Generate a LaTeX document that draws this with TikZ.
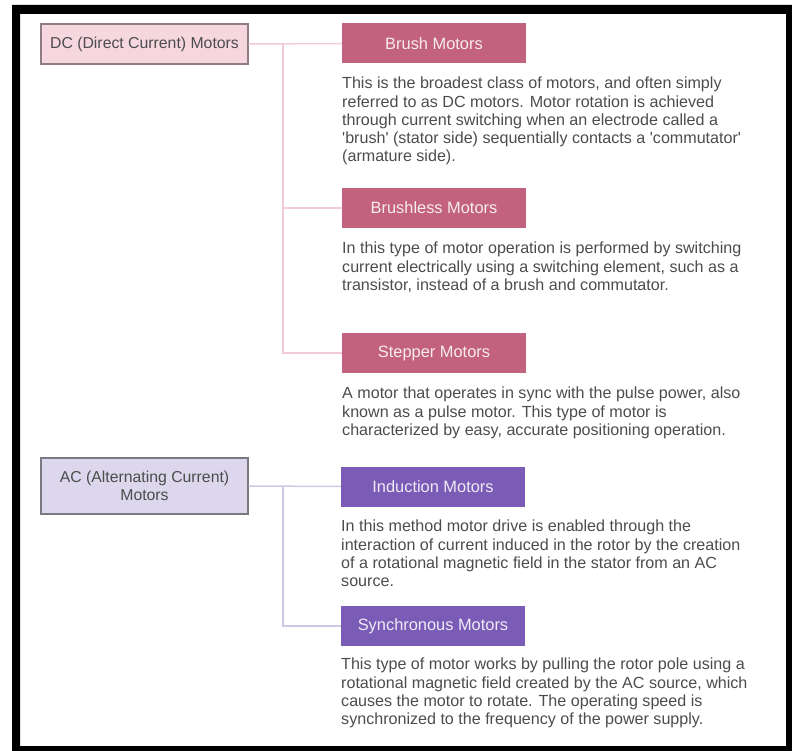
\documentclass[tikz,border=0pt]{standalone}
\usepackage{fontspec}
\setmainfont{Liberation Sans}
\definecolor{dcfill}{HTML}{F7D7DF}
\definecolor{dcedge}{HTML}{8E7E84}
\definecolor{acfill}{HTML}{DCD7EC}
\definecolor{acedge}{HTML}{7A7880}
\definecolor{rose}{HTML}{C2627F}
\definecolor{violet}{HTML}{7A5CB6}
\definecolor{roseline}{HTML}{F2CBD6}
\definecolor{violetline}{HTML}{CEC8E4}
\definecolor{bodytext}{HTML}{4C4C4C}
\newcommand{\sq}{\textquotesingle}
\tikzset{
  x=1pt, y=1pt,
  groupbox/.style={draw, line width=1.2pt, minimum width=207pt, align=center,
    font=\fontsize{15.8}{18}\selectfont, text=bodytext, inner sep=0pt},
  dcbox/.style={groupbox, fill=dcfill, draw=dcedge, minimum height=40pt},
  acbox/.style={groupbox, fill=acfill, draw=acedge, minimum height=56pt},
  header/.style={minimum width=184pt, minimum height=40pt, inner sep=0pt,
    font=\fontsize{16.4}{18}\selectfont},
  dchead/.style={header, fill=rose, text=rose!12},
  achead/.style={header, fill=violet, text=violet!12},
  desc/.style={anchor=north west, align=left, inner sep=0pt, text=bodytext,
    font=\fontsize{16.1}{18.2}\selectfont},
  dcline/.style={draw=roseline, line width=1.5pt},
  acline/.style={draw=violetline, line width=1.5pt}
}
\begin{document}
\begin{tikzpicture}
\useasboundingbox (0,0) rectangle (792,-751);
% outer black frame
\fill[black, even odd rule] (12,-5) rectangle (792,-751) (20,-14) rectangle (786,-746);

% DC branch
\node[dcbox] (dc) at (144.5,-44) {DC (Direct Current) Motors};
\node[dchead] (brush) at (434,-43.5) {Brush Motors};
\node[desc] (brushtxt) at (342,-77) {This is the broadest class of motors, and often simply\\
referred to as DC motors. Motor rotation is achieved\\
through current switching when an electrode called a\\
\sq brush\sq{} (stator side) sequentially contacts a \sq commutator\sq\\
(armature side).};
\node[dchead] (brushless) at (434,-208) {Brushless Motors};
\node[desc] (brushlesstxt) at (342,-242) {In this type of motor operation is performed by switching\\
current electrically using a switching element, such as a\\
transistor, instead of a brush and commutator.};
\node[dchead] (stepper) at (434,-353) {Stepper Motors};
\node[desc] (steppertxt) at (342,-387) {A motor that operates in sync with the pulse power, also\\
known as a pulse motor. This type of motor is\\
characterized by easy, accurate positioning operation.};

% AC branch
\node[acbox] (ac) at (144.5,-486) {AC (Alternating Current)\\Motors};
\node[achead] (induction) at (433,-486.5) {Induction Motors};
\node[desc] (inductiontxt) at (341,-520) {In this method motor drive is enabled through the\\
interaction of current induced in the rotor by the creation\\
of a rotational magnetic field in the stator from an AC\\
source.};
\node[achead] (sync) at (433,-626) {Synchronous Motors};
\node[desc] (synctxt) at (341,-658) {This type of motor works by pulling the rotor pole using a\\
rotational magnetic field created by the AC source, which\\
causes the motor to rotate. The operating speed is\\
synchronized to the frequency of the power supply.};

% connectors
\coordinate (dcfork) at (283,-44);
\coordinate (acfork) at (283,-486);
\draw[dcline] (dc.east) -- (brush.west);
\draw[dcline] (dcfork) |- (brushless.west);
\draw[dcline] (dcfork) |- (stepper.west);
\draw[acline] (ac.east) -- (induction.west);
\draw[acline] (acfork) |- (sync.west);
\end{tikzpicture}
\end{document}
